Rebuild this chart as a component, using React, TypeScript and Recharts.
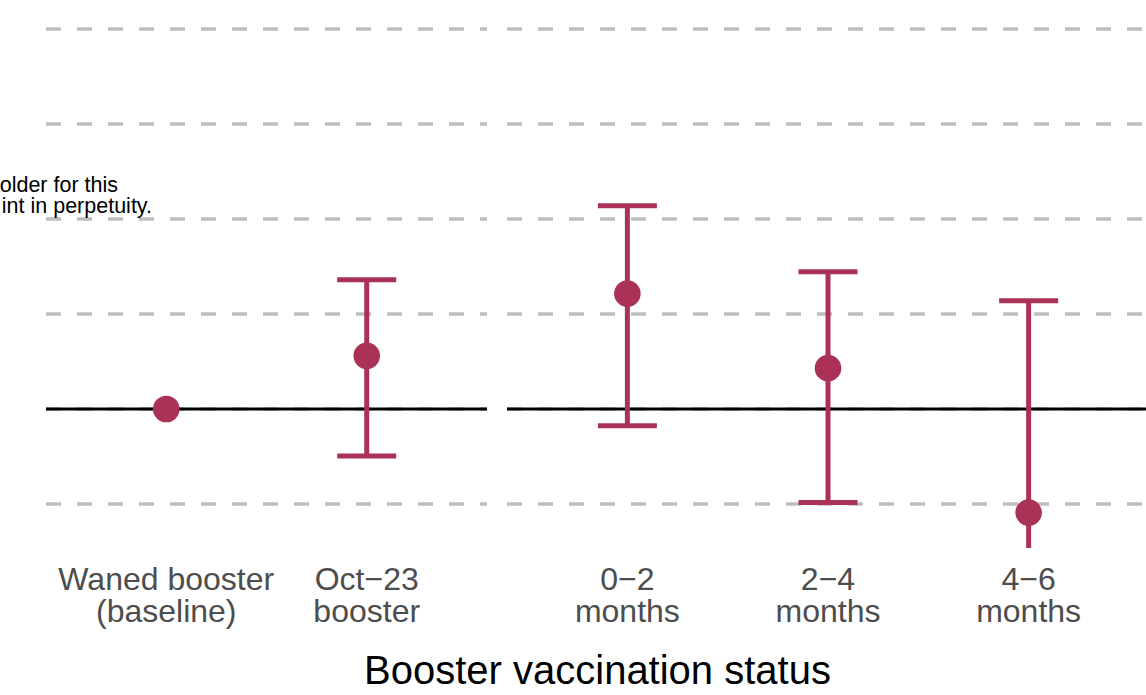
import React from "react";
import {
  ScatterChart,
  Scatter,
  XAxis,
  YAxis,
  CartesianGrid,
  ReferenceLine,
  ErrorBar,
} from "recharts";

// Category labels (two lines each) and the facet they belong to
const categories = [
  "Waned booster\n(baseline)",
  "Oct−23\nbooster",
  "0−2\nmonths",
  "2−4\nmonths",
  "4−6\nmonths",
];
const panelOf = [1, 1, 2, 2, 2];

// Estimates and confidence intervals
const estimate = [0, 11.2, 24.3, 8.6, -21.8];
const lowerCI: (number | null)[] = [null, -9.9, -3.5, -19.7, -38];
const upperCI: (number | null)[] = [null, 27.2, 42.8, 28.9, 22.8];

// Horizontal grid values
const yTicks = [-20, 0, 20, 40, 60, 80];
const yDomain: [number, number] = [-29.26, 86.1];

const COLOR = "#A93256";
const FONT = "'Liberation Sans', Arial, Helvetica, sans-serif";
const CHART_H = 648;
const AXIS_H = 100;
const PLOT_BOTTOM = CHART_H - AXIS_H;

function buildPanel(panel: number) {
  const rows: any[] = [];
  let pos = 0;
  categories.forEach((c, i) => {
    if (panelOf[i] !== panel) return;
    pos += 1;
    const lo = lowerCI[i];
    const hi = upperCI[i];
    rows.push({
      x: pos,
      label: c,
      est: estimate[i],
      err: lo == null || hi == null ? null : [estimate[i] - lo, hi - estimate[i]],
    });
  });
  return rows;
}

const panel1 = buildPanel(1);
const panel2 = buildPanel(2);

const gridGenerator = (p: any) => {
  const s = p?.yAxis?.scale;
  if (typeof s === "function") return yTicks.map((t) => s(t));
  if (s && typeof s.map === "function") return yTicks.map((t) => s.map(t));
  const top = p?.offset?.top ?? 0;
  const h = p?.offset?.height ?? PLOT_BOTTOM;
  return yTicks.map(
    (t) => top + ((yDomain[1] - t) / (yDomain[1] - yDomain[0])) * h
  );
};

const makeTick = (rows: any[]) => (props: any) => {
  const { x, y, payload } = props;
  const row = rows.find((r) => r.x === payload.value);
  if (!row) return null;
  const lines = String(row.label).split("\n");
  return (
    <g>
      {lines.map((ln: string, k: number) => (
        <text
          key={k}
          x={x}
          y={y + 41.5 + k * 32.5}
          textAnchor="middle"
          fill="#4D4D4D"
          fontSize={32}
          fontFamily={FONT}
        >
          {ln}
        </text>
      ))}
    </g>
  );
};

const Dot = (props: any) => (
  <circle cx={props.cx} cy={props.cy} r={13.3} fill={COLOR} />
);
const NoDot = () => <g />;

function PanelChart({
  rows,
  width,
  marginLeft,
  withMarks,
}: {
  rows: any[];
  width: number;
  marginLeft: number;
  withMarks: boolean;
}) {
  const n = rows.length;
  return (
    <ScatterChart
      width={width}
      height={CHART_H}
      margin={{ top: 0, right: 0, bottom: 0, left: marginLeft }}
    >
      {withMarks && (
        <CartesianGrid
          vertical={false}
          stroke="#BEBEBE"
          strokeWidth={3.5}
          strokeDasharray="15 16"
          horizontalCoordinatesGenerator={gridGenerator}
        />
      )}
      <XAxis
        dataKey="x"
        type="number"
        domain={[0.4, n + 0.6]}
        ticks={rows.map((r) => r.x)}
        interval={0}
        axisLine={false}
        tickLine={false}
        tickSize={0}
        tickMargin={0}
        height={AXIS_H}
        tick={withMarks ? false : makeTick(rows)}
      />
      <YAxis
        type="number"
        dataKey="est"
        domain={yDomain}
        ticks={yTicks}
        allowDataOverflow
        hide
      />
      {withMarks && <ReferenceLine y={0} stroke="#000000" strokeWidth={3} />}
      <Scatter
        data={rows}
        dataKey="est"
        fill={COLOR}
        shape={withMarks ? Dot : NoDot}
        isAnimationActive={false}
      >
        {withMarks && (
          <ErrorBar
            dataKey="err"
            direction="y"
            width={29.5}
            stroke={COLOR}
            strokeWidth={5}
            isAnimationActive={false}
          />
        )}
      </Scatter>
    </ScatterChart>
  );
}

function Panel({
  rows,
  width,
  left,
  marginLeft,
}: {
  rows: any[];
  width: number;
  left: number;
  marginLeft: number;
}) {
  return (
    <>
      <div
        style={{
          position: "absolute",
          left,
          top: 0,
          width,
          height: PLOT_BOTTOM,
          overflow: "hidden",
        }}
      >
        <PanelChart rows={rows} width={width} marginLeft={marginLeft} withMarks />
      </div>
      <div
        style={{
          position: "absolute",
          left,
          top: PLOT_BOTTOM,
          width,
          height: AXIS_H,
          overflow: "hidden",
        }}
      >
        <div style={{ position: "absolute", left: 0, top: -PLOT_BOTTOM }}>
          <PanelChart
            rows={rows}
            width={width}
            marginLeft={marginLeft}
            withMarks={false}
          />
        </div>
      </div>
    </>
  );
}

export default function App() {
  return (
    <div
      style={{
        position: "absolute",
        left: 0,
        top: 0,
        width: 1146,
        height: 695,
        overflow: "hidden",
        background: "#FFFFFF",
      }}
    >
      <Panel rows={panel1} width={487} left={0} marginLeft={46} />
      <Panel rows={panel2} width={642} left={507} marginLeft={0} />
      <svg
        width={1146}
        height={695}
        style={{ position: "absolute", left: 0, top: 0, pointerEvents: "none" }}
      >
        <text x={118} y={192} textAnchor="end" fontSize={21.5} fontFamily={FONT} fill="#000000">
          older for this
        </text>
        <text x={152} y={213} textAnchor="end" fontSize={21.5} fontFamily={FONT} fill="#000000">
          int in perpetuity.
        </text>
        <text x={597.5} y={684} textAnchor="middle" fontSize={40} fontFamily={FONT} fill="#000000">
          Booster vaccination status
        </text>
      </svg>
    </div>
  );
}
